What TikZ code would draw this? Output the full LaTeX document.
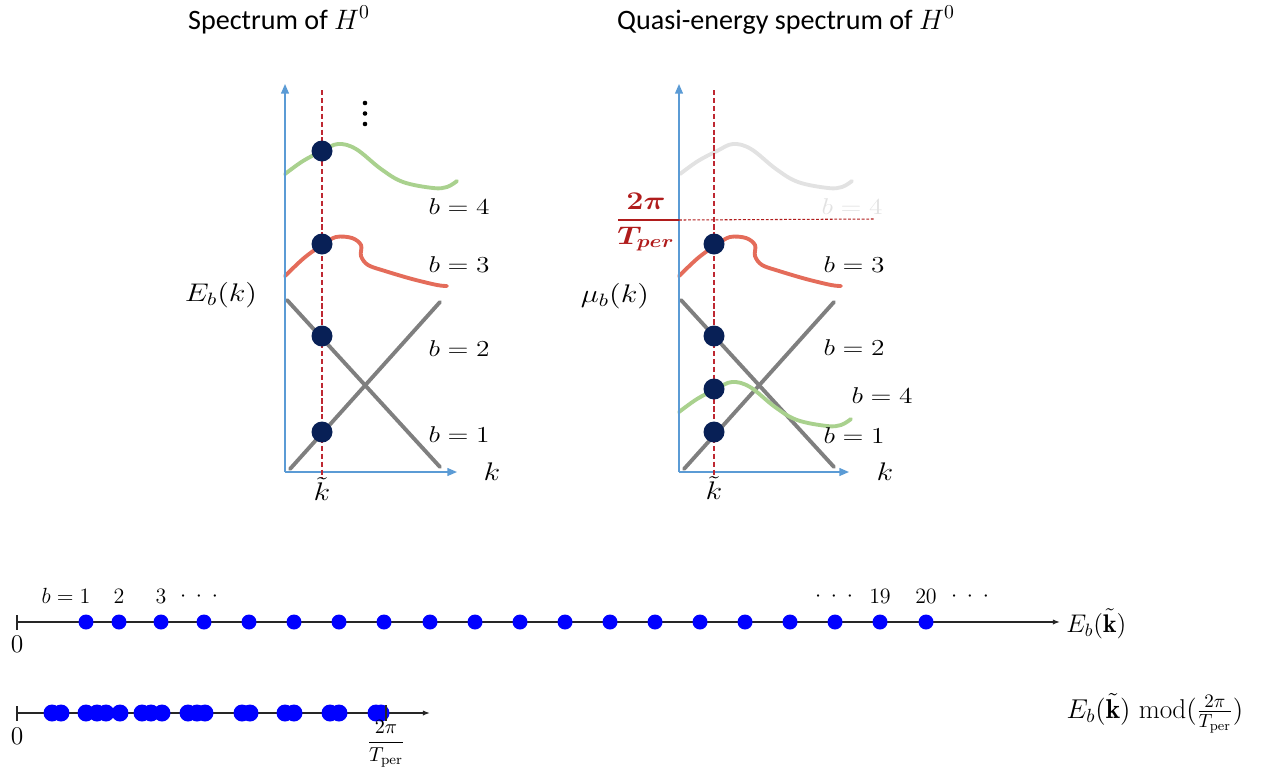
\RequirePackage{fix-cm}
\documentclass[tikz,border=0pt]{standalone}
\usepackage{fontspec}
\usepackage{amsmath}
\usepackage{bm}
\usepackage{graphicx}
\usetikzlibrary{arrows.meta}
\newfontfamily\titlefont{Carlito}
\newcommand{\sx}[1]{\scalebox{1.2}[1]{#1}}
\definecolor{axisblue}{RGB}{91,155,213}
\definecolor{bandgreen}{RGB}{169,209,142}
\definecolor{bandred}{RGB}{228,108,90}
\definecolor{bandgray}{RGB}{127,127,127}
\definecolor{fadegray}{RGB}{226,226,226}
\definecolor{statenavy}{RGB}{8,32,86}
\definecolor{kred}{RGB}{190,40,50}
\definecolor{fracred}{RGB}{176,28,28}
\definecolor{numblue}{RGB}{0,0,255}
\begin{document}
\begin{tikzpicture}[x=0.02cm,y=-0.02cm,
  axis/.style={draw=axisblue,line width=0.8pt,-{Triangle[length=5.5pt,width=4.5pt]}},
  band/.style={line width=2.2pt,line cap=round},
  kline/.style={draw=kred,line width=0.6pt,dash pattern=on 3pt off 1.5pt},
  state/.style={circle,fill=statenavy,inner sep=0pt,minimum size=0.42cm},
  toplab/.style={font=\fontsize{13}{15}\selectfont,inner sep=0pt},
  biglab/.style={font=\fontsize{14.5}{17}\selectfont,inner sep=0pt},
  ttl/.style={font=\titlefont\fontsize{16}{19}\selectfont,inner sep=0pt},
  bdot/.style={circle,fill=numblue,inner sep=0pt,minimum size=0.3cm},
  bdotb/.style={circle,fill=numblue,inner sep=0pt,minimum size=0.34cm},
  numaxis/.style={draw=black!85,line width=0.8pt,-{Latex[length=4pt,width=3pt]}},
  numtick/.style={draw=black!85,line width=0.8pt},
  numlab/.style={font=\fontsize{12.5}{14}\selectfont,inner sep=0pt}
]
\useasboundingbox (0,0) rectangle (1261,768);

% ---------- titles ----------
\node[ttl] (t1) at (279,20) {Spectrum of $H^0$};
\node[ttl] (t2) at (786,20) {Quasi-energy spectrum of $H^0$};

% ---------- left panel ----------
\coordinate (oL) at (285,472);
\coordinate (yL) at (285,84);
\coordinate (xL) at (457,472);
\draw[band,bandgray] (287,300) -- (440,467);
\draw[band,bandgray] (290,469) -- (440,302);
\draw[band,bandgreen] plot[smooth,tension=0.6] coordinates {(285,174) (303,161) (322,151) (338,144) (356,149) (381,169) (403,182) (433,188) (447,187) (457,181)};
\draw[band,bandred] plot[smooth,tension=0.55] coordinates {(285,276) (304,258) (322,245) (336,237) (352,238) (361,245) (361,256) (368,265) (385,271) (412,279) (437,285) (447,286)};
\draw[axis] (oL) -- (yL);
\draw[axis] (oL) -- (xL);
\coordinate (kLt) at (322,90);
\coordinate (kLb) at (322,478);
\draw[kline] (kLt) -- (kLb);
\node[state] (sL4) at (322,151) {};
\node[state] (sL3) at (322,244) {};
\node[state] (sL2) at (322,336) {};
\node[state] (sL1) at (322,432) {};
\fill (365,103) circle (2.3);
\fill (365,113.5) circle (2.3);
\fill (365,124) circle (2.3);
\node[toplab] (bL4) at (459,207) {\sx{$b = 4$}};
\node[toplab] (bL3) at (459,265) {\sx{$b = 3$}};
\node[toplab] (bL2) at (459,349) {\sx{$b = 2$}};
\node[toplab] (bL1) at (459,435) {\sx{$b = 1$}};
\node[biglab] (EL) at (221,295) {\sx{$E_b(k)$}};
\node[biglab] (kL) at (492,472) {\sx{$k$}};
\node[biglab] (ktL) at (322,489) {\sx{$\tilde{k}$}};

% ---------- right panel ----------
\coordinate (oR) at (679,472);
\coordinate (yR) at (679,84);
\coordinate (xR) at (849,472);
\draw[band,fadegray,shift={(395,0)}] plot[smooth,tension=0.6] coordinates {(285,174) (303,161) (322,151) (338,144) (356,149) (381,169) (403,182) (433,188) (447,187) (457,181)};
\node[toplab,text=fadegray] (bR4f) at (852,207) {\sx{$b = 4$}};
\draw[band,bandgray,shift={(394,0)}] (287,300) -- (440,467);
\draw[band,bandgray,shift={(394,0)}] (290,469) -- (440,302);
\draw[band,bandgreen,shift={(394,238)}] plot[smooth,tension=0.6] coordinates {(285,174) (303,161) (322,151) (338,144) (356,149) (381,169) (403,182) (433,188) (447,187) (457,181)};
\draw[band,bandred,shift={(394,0)}] plot[smooth,tension=0.55] coordinates {(285,276) (304,258) (322,245) (336,237) (352,238) (361,245) (361,256) (368,265) (385,271) (412,279) (437,285) (447,286)};
\draw[axis] (oR) -- (yR);
\draw[axis] (oR) -- (xR);
\coordinate (kRt) at (714,90);
\coordinate (kRb) at (714,478);
\draw[kline] (kRt) -- (kRb);
% 2pi / T_per level
\coordinate (fb1) at (618,220);
\coordinate (fb2) at (679,220);
\coordinate (fb3) at (875,219);
\draw[fracred,line width=0.8pt] (fb1) -- (fb2);
\draw[fracred,line width=0.6pt,dash pattern=on 1.6pt off 1pt] (fb2) -- (fb3);
\node[biglab,text=fracred] (num) at (646,201) {\sx{$\bm{2\pi}$}};
\node[biglab,text=fracred] (den) at (646,239) {\sx{$\bm{T_{per}}$}};
\node[state] (sR3) at (714,244) {};
\node[state] (sR2) at (714,336) {};
\node[state] (sR4) at (714,389) {};
\node[state] (sR1) at (714,432) {};
\node[toplab] (bR3) at (854,265) {\sx{$b = 3$}};
\node[toplab] (bR2) at (854,348) {\sx{$b = 2$}};
\node[toplab] (bR4) at (882,396) {\sx{$b = 4$}};
\node[toplab] (bR1) at (854,436) {\sx{$b = 1$}};
\node[biglab] (muR) at (615,296) {\sx{$\mu_b(k)$}};
\node[biglab] (kR) at (885,472) {\sx{$k$}};
\node[biglab] (ktR) at (714,488) {\sx{$\tilde{k}$}};

% ---------- number line 1 ----------
\coordinate (a0) at (17,622);
\coordinate (a1) at (1060,622);
\draw[numaxis] (a0) -- (a1);
\draw[numtick] (17,615) -- (17,630);
\foreach \x [count=\i] in {86,119,161,204,249,294,339,384,430,475,520,565,610,655,700,745,790,835,880,926}
  \node[bdot] (d\i) at (\x,622) {};
\node[numlab] (lb1) at (66,596) {$b=1$};
\node[numlab] (lb2) at (119,596) {$2$};
\node[numlab] (lb3) at (161,596) {$3$};
\node[numlab] (ld1) at (199,597) {${\cdot}\mkern8mu{\cdot}\mkern8mu{\cdot}$};
\node[numlab] (ld2) at (834,597) {${\cdot}\mkern8mu{\cdot}\mkern8mu{\cdot}$};
\node[numlab] (lb19) at (880,596) {$19$};
\node[numlab] (lb20) at (926,596) {$20$};
\node[numlab] (ld3) at (970,597) {${\cdot}\mkern8mu{\cdot}\mkern8mu{\cdot}$};
\node[numlab,font=\fontsize{14.5}{16}\selectfont] (z1) at (17,644) {$0$};
\node[numlab,font=\fontsize{14.5}{16}\selectfont,anchor=west] (Elab) at (1066,624) {$E_b(\tilde{\mathbf{k}})$};

% ---------- number line 2 ----------
\coordinate (c0) at (17,713);
\coordinate (c1) at (430,713);
\draw[numaxis] (c0) -- (c1);
\foreach \x [count=\i] in {52,61,86,97,106,120,142,151,162,188,197,205,242,250,285,294,330,339,376,381}
  \node[bdotb] (e\i) at (\x,713) {};
\draw[numtick] (17,706) -- (17,721);
\draw[numtick] (386,705) -- (386,721);
\node[numlab,font=\fontsize{14.5}{16}\selectfont] (z2) at (17,736) {$0$};
\node[numlab,font=\fontsize{11.5}{13}\selectfont] (per) at (386,744) {$\displaystyle\frac{2\pi}{T_{\mathrm{per}}}$};
\node[numlab,font=\fontsize{15.5}{17}\selectfont] (modlab) at (1155,713) {$E_b(\tilde{\mathbf{k}})\ \mathrm{mod}(\tfrac{2\pi}{T_{\mathrm{per}}})$};
\end{tikzpicture}
\end{document}
